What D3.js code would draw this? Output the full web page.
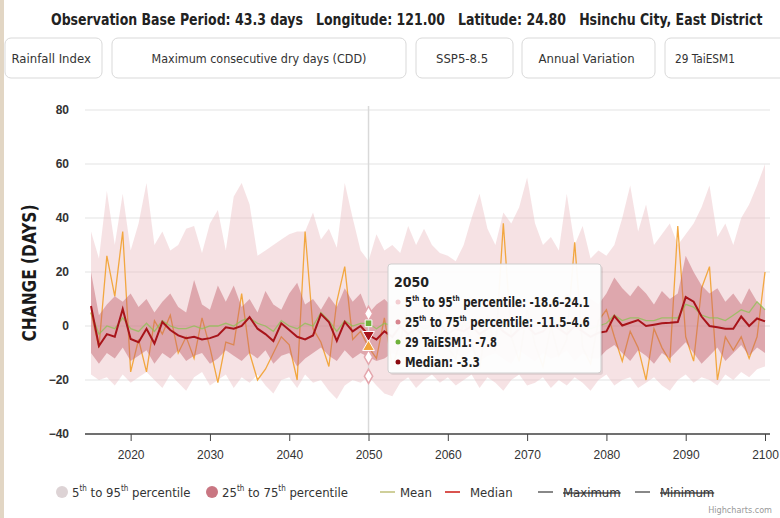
<!DOCTYPE html>
<html>
<head>
<meta charset="utf-8">
<script src="https://cdn.jsdelivr.net/npm/d3@7"></script>
<style>
body { margin: 0; background: #fff; }
svg { display: block; font-family: "DejaVu Sans Condensed", "Liberation Sans Narrow", sans-serif; font-stretch: condensed; }
</style>
</head>
<body>
<div id="chart"></div>
<script>
// chart values
var years = d3.range(2015, 2101);

var p95 = [35, 25, 50, 30, 49, 28, 38, 53, 30, 35,
           28, 30, 36, 37, 27, 38, 43, 28, 48, 53,
           45, 26, 28, 30, 32, 34, 35, 35, 42, 32,
           36, 29, 53, 40, 28, 24.1, 34, 28, 30, 27,
           37, 30, 36, 30, 27, 26, 24, 30, 40, 49,
           36, 30, 42, 38, 44, 55, 38, 30, 33, 28,
           49, 30, 37, 25, 28, 26, 30, 40, 52, 35,
           45, 30, 34, 38, 30, 34, 38, 44, 52, 33,
           38, 30, 40, 45, 52, 60];

var p5 = [-18, -20, -19, -22, -18, -21, -19, -17, -20, -23,
          -18, -21, -24, -19, -17, -22, -20, -18, -23, -19,
          -21, -18, -22, -25, -20, -19, -23, -18, -21, -20,
          -24, -27, -22, -20, -21, -18.6, -22, -25, -26, -21,
          -19, -23, -20, -18, -21, -19, -22, -20, -18, -23,
          -19, -21, -24, -20, -18, -22, -21, -19, -23, -20,
          -22, -19, -21, -24, -20, -18, -22, -20, -19, -23,
          -21, -19, -22, -24, -20, -18, -21, -19, -20, -22,
          -18, -20, -17, -19, -16, -15];

var p75 = [20, 4, 8, 11, 9, 12, 7, 10, 5, 9,
           12, 7, 5, 17, 8, 6, 15, 9, 15, 7,
           10, 5, 13, 8, 6, 12, 16, 8, 10, 6,
           11, 7, 14, 9, 12, 4.6, 8, 10, 7, 9,
           6, 11, 8, 7, 10, 5, 9, 8, 11, 6,
           9, 7, 12, 8, 10, 6, 9, 11, 7, 8,
           12, 9, 6, 10, 8, 12, 18, 14, 11, 15,
           12, 8, 13, 10, 12, 26, 20, 15, 12, 14,
           9, 12, 8, 14, 9, 6];

var p25 = [-10, -14, -10, -12, -8, -13, -11, -9, -14, -10,
           -12, -9, -13, -11, -10, -14, -12, -9, -11, -13,
           -10, -12, -9, -14, -11, -10, -15, -12, -10, -8,
           -11, -13, -9, -12, -10, -11.5, -13, -12, -10, -11,
           -13, -9, -12, -10, -11, -14, -10, -12, -9, -13,
           -11, -10, -12, -14, -9, -11, -13, -10, -12, -11,
           -9, -13, -10, -12, -12, -9, -7, -10, -13, -9,
           -11, -14, -10, -12, -9, -6, -10, -14, -11, -8,
           -13, -10, -7, -11, -8, -10];

var median = [7.4, -7.4, -3, -4, 6.3, -4.8, -6, -1, -6.5, 1.5,
              -1.5, -3.5, -4.5, -4, -5, -4.5, -3.5, -0.5, -1, 0,
              3.3, -1, -3, -5.6, 1, -1.5, -4, -5, -3.5, 4.4,
              1.5, -5.5, 1.5, -2, 0, -3.3, -5, -2, -4, 0,
              -3, -1, -4, -2, 1, -3, -1, -2, 0, -3,
              -1, 1, -2, -4, -1, 0, -3, -2, 1, -1,
              -3, 0, -2, -4, -2.5, -2, 3.7, 0.2, 1.2, 2.2,
              0, 0.5, 1, 1.2, 1.5, 10.7, 9, 3.5, 0, -0.5,
              -1, -1, 3.5, 0, 2.8, 1.7];

var mean = [5, -3, 0, -1, 3, -1, -2, 1, -2, 2,
            0, -1, -1, 0, -1, 0, 0, 1, 0, 2,
            3, 1, 0, -2, 2, 0, -1, 1, 0, 5,
            2, -2, 2, 0, 1, 1, -1, 1, 0, 2,
            0, 1, -1, 0, 2, 0, 1, 0, 2, -1,
            1, 2, 0, -1, 1, 2, 0, 1, 2, 0,
            -1, 2, 1, -1, 0, 1, 4, 2, 3, 3,
            2, 2, 3, 3, 3, 8, 7, 4, 3, 3,
            2, 4, 6, 5, 9, 6];

var taiesm1 = [5, -8, 26, 11, 35, -17, -5, -17, 2, -3,
               4, -10, -4, -12, 3, -8, -21, -6, -7, 12,
               -10, -20, -16, -10, -4, -7, -20, 35, -1, -6,
               -15, 9, 22, -5, -2, -7.8, -12, 3, -15, -6,
               8, -10, -3, -14, 5, -8, -12, 2, -6, -16,
               4, -9, 38, -4, -13, 6, -7, -15, 0, -11,
               -5, 31, -8, -14, 2, 6, -4, -13, -2, -8,
               -20, -1, -8, -13, 37, -4, -13, 14, 22, -20,
               -4, -9, -4, -12, -4, 20];

var xTicks = [2020, 2030, 2040, 2050, 2060, 2070, 2080, 2090, 2100];
var yTicks = [80, 60, 40, 20, 0, -20, -40];
var buttons = ["Rainfall Index", "Maximum consecutive dry days (CDD)", "SSP5-8.5", "Annual Variation", "29 TaiESM1"];
var hoverYear = 2050;

//svg dimensions
var svgWidth = 780;
var svgHeight = 518;
var plot = { left: 85, right: 770, top: 110, bottom: 434 };

var svg = d3.select("#chart")
  .append("svg")
  .attr("width", svgWidth)
  .attr("height", svgHeight);

var rows = years.map(function(yr, i) {
  return { year: yr, p5: p5[i], p95: p95[i], p25: p25[i], p75: p75[i],
           median: median[i], mean: mean[i], tai: taiesm1[i] };
});

// squeeze a text horizontally so it is no wider than w (anchored at its start x)
function fitWidth(t, x0, y0, w) {
  var cur = t.node().getComputedTextLength();
  if (cur > w) t.attr("transform", "translate(" + x0 + "," + y0 + ") scale(" + (w / cur) + ",1) translate(" + (-x0) + "," + (-y0) + ")");
}

// scales
var x = d3.scaleLinear().domain([2015, 2100]).range([91, 765]);
var y = d3.scaleLinear().domain([-40, 80]).range([plot.bottom, plot.top]);

// beige edge of the photo on the left
svg.append("rect").attr("x", 0).attr("y", 0).attr("width", 4).attr("height", svgHeight)
  .attr("fill", "#e2d6c4");

// header
var header = svg.append("text")
  .attr("x", 51).attr("y", 25)
  .attr("font-size", 15).attr("font-weight", "bold").attr("fill", "#222")
  .attr("xml:space", "preserve")
  .text("Observation Base Period: 43.3 days   Longitude: 121.00   Latitude: 24.80   Hsinchu City, East District");
fitWidth(header, 51, 25, 712);

// selector buttons
var btnX = [5, 112, 416, 522, 665];
var btnW = [97, 294, 97, 133, 125];
var btnTextW = [84, 215, 57, 100, 60];
buttons.forEach(function(b, i) {
  svg.append("rect")
    .attr("x", btnX[i]).attr("y", 38).attr("width", btnW[i]).attr("height", 40)
    .attr("rx", 6).attr("fill", "#fff").attr("stroke", "#d9d9d9");
  var tx = i == 4 ? btnX[i] + 10 : btnX[i] + (btnW[i] - btnTextW[i]) / 2;
  var t = svg.append("text")
    .attr("x", tx).attr("y", 63)
    .attr("font-size", 13).attr("fill", "#333")
    .text(b);
  fitWidth(t, tx, 63, btnTextW[i]);
});

// gridlines
svg.append("g").selectAll("line").data(yTicks).enter().append("line")
  .attr("x1", plot.left).attr("x2", plot.right)
  .attr("y1", function(d) { return y(d); }).attr("y2", function(d) { return y(d); })
  .attr("stroke", "#ececec").attr("stroke-width", 1.5);

// bands
var band595 = d3.area().x(function(d) { return x(d.year); })
  .y0(function(d) { return y(d.p5); }).y1(function(d) { return y(d.p95); });
var band2575 = d3.area().x(function(d) { return x(d.year); })
  .y0(function(d) { return y(d.p25); }).y1(function(d) { return y(d.p75); });

svg.append("path").datum(rows).attr("d", band595)
  .attr("fill", "#eabfc3").attr("opacity", 0.45);

svg.append("path").datum(rows)
  .attr("d", d3.line().x(function(d) { return x(d.year); }).y(function(d) { return y(d.tai); }))
  .attr("fill", "none").attr("stroke", "#f2a740").attr("stroke-width", 1.3);

svg.append("path").datum(rows).attr("d", band2575)
  .attr("fill", "#c2606b").attr("opacity", 0.45);

svg.append("path").datum(rows)
  .attr("d", d3.line().x(function(d) { return x(d.year); }).y(function(d) { return y(d.mean); }))
  .attr("fill", "none").attr("stroke", "#86c44c").attr("stroke-width", 1.3).attr("opacity", 0.7);

svg.append("path").datum(rows)
  .attr("d", d3.line().x(function(d) { return x(d.year); }).y(function(d) { return y(d.median); }))
  .attr("fill", "none").attr("stroke", "#a8141a").attr("stroke-width", 2);

// crosshair
svg.append("line")
  .attr("x1", x(hoverYear)).attr("x2", x(hoverYear))
  .attr("y1", plot.top - 4).attr("y2", plot.bottom)
  .attr("stroke", "#d9d9d9").attr("stroke-width", 1.5);

// hover markers
var h = rows[years.indexOf(hoverYear)];
[h.p75, h.p25, h.p5].forEach(function(v) {
  svg.append("path")
    .attr("d", d3.symbol().type(d3.symbolDiamond).size(60))
    .attr("transform", "translate(" + x(hoverYear) + "," + y(v) + ")")
    .attr("fill", "#fff").attr("stroke", "#e4a6ad").attr("stroke-width", 1.5);
});
svg.append("path")
  .attr("d", d3.symbol().type(d3.symbolSquare).size(45))
  .attr("transform", "translate(" + x(hoverYear) + "," + y(h.mean) + ")")
  .attr("fill", "#6fb13b").attr("stroke", "#fff");
svg.append("path")
  .attr("d", d3.symbol().type(d3.symbolTriangle).size(60))
  .attr("transform", "translate(" + x(hoverYear) + "," + y(h.median) + ") rotate(180)")
  .attr("fill", "#a8141a").attr("stroke", "#fff");
svg.append("path")
  .attr("d", d3.symbol().type(d3.symbolTriangle).size(60))
  .attr("transform", "translate(" + x(hoverYear) + "," + y(h.tai) + ")")
  .attr("fill", "#f2a33a").attr("stroke", "#fff");

// axes
var bottomAxis = d3.axisBottom(x).tickValues(xTicks).tickFormat(d3.format("d")).tickSize(7).tickPadding(9);
var xAxisG = svg.append("g").attr("transform", "translate(0," + plot.bottom + ")").call(bottomAxis);
xAxisG.select(".domain").remove();
xAxisG.selectAll("line").attr("stroke", "#444");
xAxisG.selectAll("text").attr("font-size", 12).attr("fill", "#333").attr("font-family", null);
svg.append("line").attr("x1", plot.left).attr("x2", plot.right)
  .attr("y1", plot.bottom).attr("y2", plot.bottom).attr("stroke", "#444").attr("stroke-width", 1.5);

var leftAxis = d3.axisLeft(y).tickValues(yTicks).tickSize(0).tickPadding(0);
var yAxisG = svg.append("g").attr("transform", "translate(69,0)").call(leftAxis);
yAxisG.select(".domain").remove();
yAxisG.selectAll("text").attr("font-size", 12).attr("font-weight", "bold").attr("fill", "#333").attr("font-family", null);

// axis title
svg.append("text")
  .attr("transform", "translate(36,273) rotate(-90)")
  .attr("text-anchor", "middle")
  .attr("font-size", 20).attr("font-weight", "bold").attr("fill", "#1a1a1a")
  .attr("textLength", 137).attr("lengthAdjust", "spacingAndGlyphs")
  .text("CHANGE (DAYS)");

// tooltip
var tip = svg.append("g").attr("transform", "translate(388,264)");
tip.append("rect").attr("x", 2).attr("y", 2).attr("width", 213).attr("height", 109).attr("rx", 3)
  .attr("fill", "#000").attr("opacity", 0.08);
tip.append("rect").attr("width", 213).attr("height", 109).attr("rx", 3)
  .attr("fill", "#fff").attr("opacity", 0.96).attr("stroke", "#cfcfcf");
tip.append("text").attr("x", 6).attr("y", 23).attr("font-size", 14).attr("font-weight", "bold")
  .attr("fill", "#222").text(hoverYear);

// each row: bullet colour, pieces [text, superscript?], target width
var tipRows = [
  { c: "#f3cdd1", w: 185, parts: [["5", 0], ["th", 1], [" to 95", 0], ["th", 1], [" percentile: " + h.p5 + "\u2013" + h.p95, 0]] },
  { c: "#d7848e", w: 185, parts: [["25", 0], ["th", 1], [" to 75", 0], ["th", 1], [" percentile: " + h.p25 + "\u2013" + h.p75, 0]] },
  { c: "#6fb13b", w: 92, parts: [["29 TaiESM1: " + h.tai, 0]] },
  { c: "#8b0a10", w: 75, parts: [["Median: " + h.median, 0]] }
];
tipRows.forEach(function(r, i) {
  var by = 43 + i * 20;
  tip.append("circle").attr("cx", 10).attr("cy", by - 5).attr("r", 2.5).attr("fill", r.c);
  var t = tip.append("text").attr("x", 17).attr("y", by)
    .attr("font-size", 14).attr("font-weight", "bold").attr("fill", "#222");
  r.parts.forEach(function(p, j) {
    var ts = t.append("tspan").text(p[0]);
    if (p[1]) ts.attr("font-size", 8).attr("dy", -6);
    else if (j > 0) ts.attr("dy", 6);
  });
  fitWidth(t, 17, by, r.w);
});

// legend
var legend = [
  { type: "dot", c: "#ddd3d5", x: 62, tx: 72, w: 120, parts: ["5", "th", " to 95", "th", " percentile"] },
  { type: "dot", c: "#c97682", x: 212, tx: 222, w: 133, parts: ["25", "th", " to 75", "th", " percentile"] },
  { type: "line", c: "#cfcf9a", x: 380, tx: 400, w: 33, parts: ["Mean"] },
  { type: "line", c: "#d9534f", x: 445, tx: 470, w: 50, parts: ["Median"] },
  { type: "line", c: "#888", x: 538, tx: 563, w: 60, parts: ["Maximum"], hidden: true },
  { type: "line", c: "#888", x: 635, tx: 660, w: 58, parts: ["Minimum"], hidden: true }
];
legend.forEach(function(l) {
  if (l.type == "dot") {
    svg.append("circle").attr("cx", l.x).attr("cy", 492).attr("r", 6).attr("fill", l.c);
  } else {
    svg.append("line").attr("x1", l.x).attr("x2", l.x + 15).attr("y1", 492).attr("y2", 492)
      .attr("stroke", l.c).attr("stroke-width", 2);
  }
  var t = svg.append("text").attr("x", l.tx).attr("y", 497).attr("font-size", 13).attr("fill", "#333");
  if (l.hidden) t.attr("text-decoration", "line-through");
  l.parts.forEach(function(s, i) {
    var ts = t.append("tspan").text(s);
    if (i % 2 == 1) ts.attr("font-size", 8).attr("dy", -6);
    else if (i > 0) ts.attr("dy", 6);
  });
  fitWidth(t, l.tx, 497, l.w);
});

svg.append("text").attr("x", 772).attr("y", 513).attr("text-anchor", "end")
  .attr("font-size", 9).attr("fill", "#999").text("Highcharts.com");
</script>
</body>
</html>
